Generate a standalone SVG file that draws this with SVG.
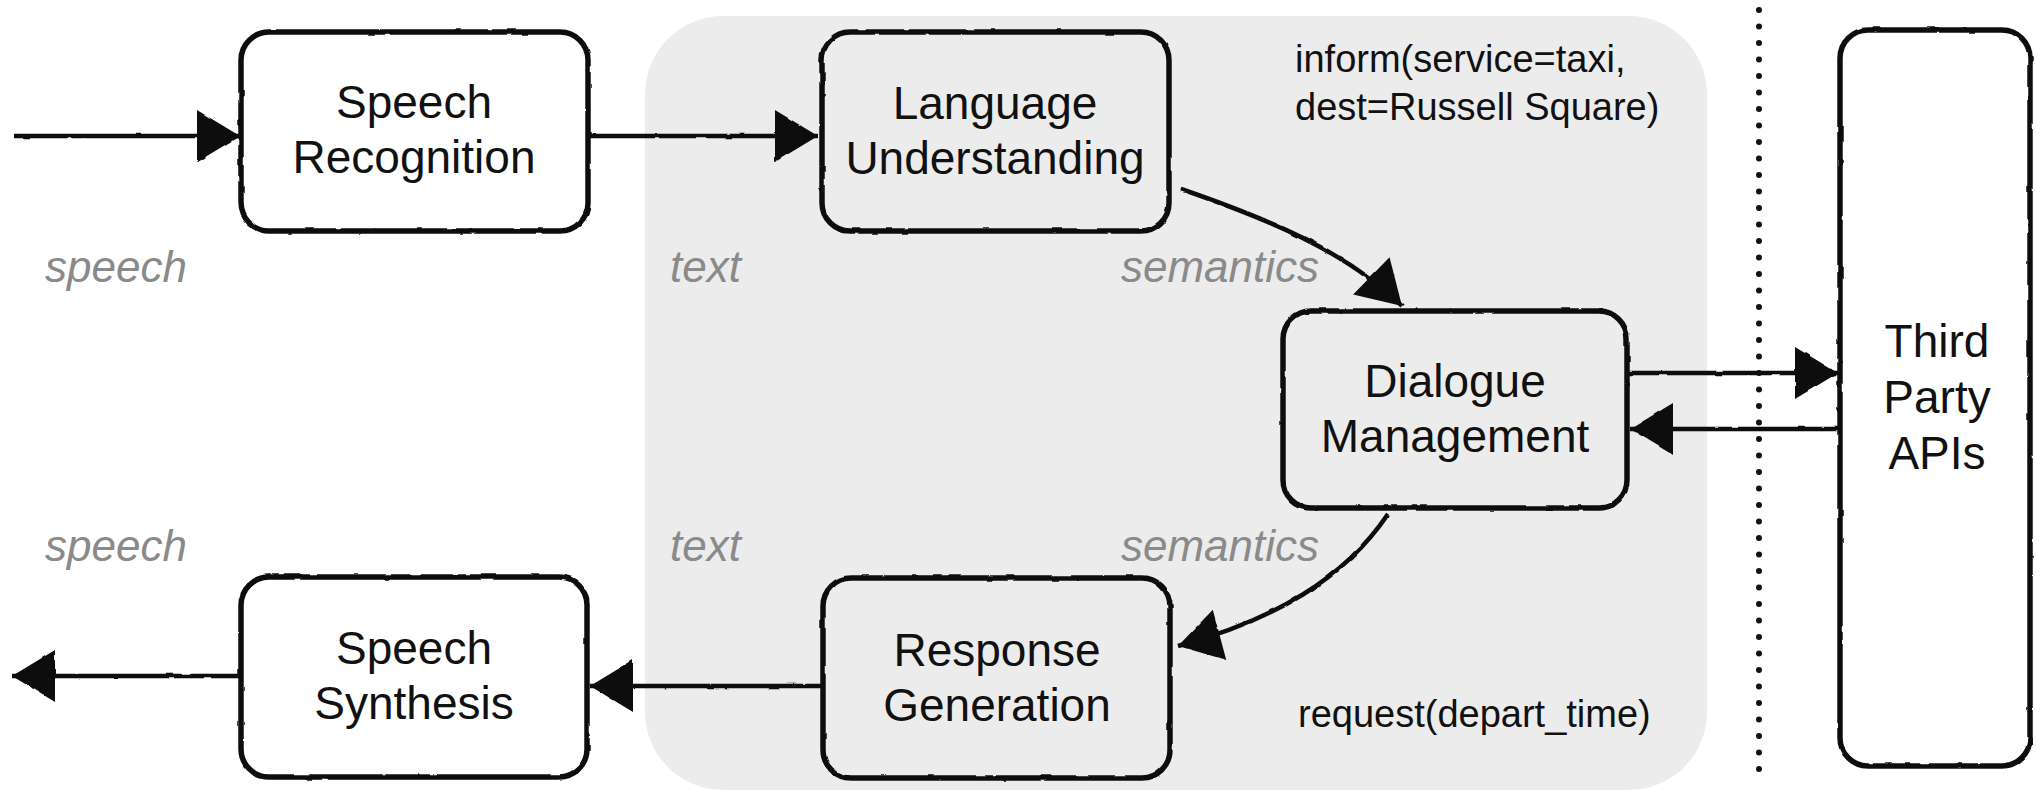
<svg xmlns="http://www.w3.org/2000/svg" width="2036" height="793" viewBox="0 0 2036 793">
  <style>
    .box { fill: #ffffff; stroke: #111111; stroke-width: 5.5; }
    .box.inner { fill: none; }
    .label { font-family: "Liberation Sans", Arial, sans-serif; font-size: 46px; fill: #111111; text-anchor: middle; }
    .act { font-family: "Liberation Sans", Arial, sans-serif; font-size: 38px; fill: #111111; }
    .flow { font-family: "Liberation Sans", Arial, sans-serif; font-size: 44px; font-style: italic; fill: #8a8a8a; }
    .conn { fill: none; stroke: #111111; stroke-width: 4.5; }
  </style>
  <defs>
    <!-- hand-drawn wobble for outlines and arrows -->
    <filter id="rough" x="-5%" y="-5%" width="110%" height="110%">
      <feTurbulence type="fractalNoise" baseFrequency="0.06" numOctaves="2" seed="3" result="noise"/>
      <feDisplacementMap in="SourceGraphic" in2="noise" scale="2.5" xChannelSelector="R" yChannelSelector="G"/>
    </filter>
    <marker id="head" markerUnits="userSpaceOnUse" viewBox="0 0 44 56" markerWidth="44" markerHeight="56" refX="43" refY="28" orient="auto" overflow="visible">
      <path d="M0,2 L43,28 L0,54 Z" fill="#111111"/>
    </marker>
  </defs>

  <!-- shaded system region -->
  <rect id="system-region" x="645" y="16" width="1062" height="774" rx="78" fill="#ececec"/>

  <!-- boundary between the system and external services -->
  <line id="boundary" x1="1759" y1="10" x2="1759" y2="772" stroke="#111111" stroke-width="6" stroke-linecap="round" stroke-dasharray="0 16.5"/>

  <g id="connectors" filter="url(#rough)">
    <line class="conn" x1="14" y1="136" x2="240" y2="136" marker-end="url(#head)"/>
    <line class="conn" x1="589" y1="136" x2="818" y2="136" marker-end="url(#head)"/>
    <path class="conn" d="M1181,189 C1265,218 1345,250 1402,306" marker-end="url(#head)"/>
    <line class="conn" x1="1629" y1="373" x2="1838" y2="373" marker-end="url(#head)"/>
    <line class="conn" x1="1840" y1="429" x2="1630" y2="429" marker-end="url(#head)"/>
    <path class="conn" d="M1388,514 C1345,578 1275,620 1178,646" marker-end="url(#head)"/>
    <line class="conn" x1="822" y1="686" x2="590" y2="686" marker-end="url(#head)"/>
    <line class="conn" x1="242" y1="676" x2="12" y2="676" marker-end="url(#head)"/>
  </g>

  <g id="speech-recognition">
    <rect class="box" x="241" y="32" width="347" height="199" rx="28" filter="url(#rough)"/>
    <text class="label" x="414" y="118">Speech</text>
    <text class="label" x="414" y="173">Recognition</text>
  </g>

  <g id="language-understanding">
    <rect class="box inner" x="822" y="32" width="347" height="199" rx="28" filter="url(#rough)"/>
    <text class="label" x="995" y="119">Language</text>
    <text class="label" x="995" y="174">Understanding</text>
  </g>

  <g id="dialogue-management">
    <rect class="box inner" x="1283" y="311" width="344" height="197" rx="28" filter="url(#rough)"/>
    <text class="label" x="1455" y="397">Dialogue</text>
    <text class="label" x="1455" y="452">Management</text>
  </g>

  <g id="response-generation">
    <rect class="box inner" x="823" y="578" width="347" height="200" rx="28" filter="url(#rough)"/>
    <text class="label" x="997" y="666">Response</text>
    <text class="label" x="997" y="721">Generation</text>
  </g>

  <g id="speech-synthesis">
    <rect class="box" x="241" y="577" width="346" height="200" rx="28" filter="url(#rough)"/>
    <text class="label" x="414" y="664">Speech</text>
    <text class="label" x="414" y="719">Synthesis</text>
  </g>

  <g id="third-party-apis">
    <rect class="box" x="1840" y="30" width="190" height="736" rx="28" filter="url(#rough)"/>
    <text class="label" x="1937" y="357">Third</text>
    <text class="label" x="1937" y="413">Party</text>
    <text class="label" x="1937" y="469">APIs</text>
  </g>

  <!-- dialogue acts -->
  <text class="act" x="1295" y="72">inform(service=taxi,</text>
  <text class="act" x="1295" y="120">dest=Russell Square)</text>
  <text class="act" x="1298" y="727">request(depart_time)</text>

  <!-- data passed between stages -->
  <text class="flow" x="45" y="282">speech</text>
  <text class="flow" x="670" y="282">text</text>
  <text class="flow" x="1121" y="282">semantics</text>
  <text class="flow" x="45" y="561">speech</text>
  <text class="flow" x="670" y="561">text</text>
  <text class="flow" x="1121" y="561">semantics</text>
</svg>
